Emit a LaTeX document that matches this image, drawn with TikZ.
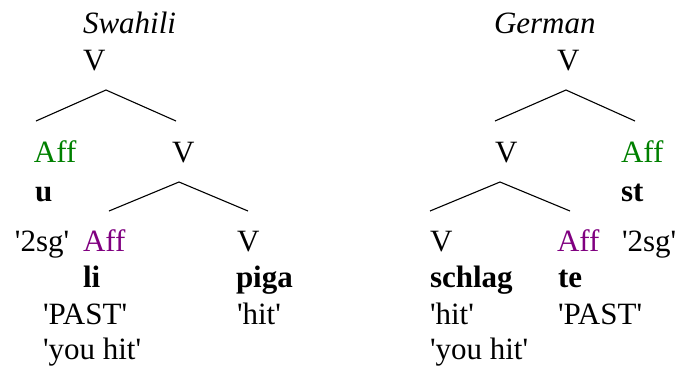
\documentclass[tikz,border=0pt]{standalone}
\usepackage{fontspec}
\setmainfont{Liberation Serif}
\newcommand{\strq}{\textquotesingle}
\definecolor{affgreen}{RGB}{0,128,0}
\definecolor{affpurple}{RGB}{128,0,128}
\begin{document}
\begin{tikzpicture}[x=1pt,y=-1pt,
  lbl/.style={anchor=base west,inner sep=0pt,outer sep=0pt,font=\fontsize{31}{36}\selectfont},
  lang/.style={lbl,font=\fontsize{31}{36}\selectfont\itshape},
  morph/.style={lbl,font=\fontsize{31}{36}\selectfont\bfseries},
  afftop/.style={lbl,text=affgreen},
  affin/.style={lbl,text=affpurple},
  branch/.style={draw=black,line width=1.1pt}]
\useasboundingbox (0,0) rectangle (678,368);

% ---------- Swahili ----------
\node[lang] (swt) at (83,33) {Swahili};
\node[lbl] (swV) at (83,70) {V};
\node[afftop] (swAff1) at (34,162) {Aff};
\node[lbl] (swV2) at (172,162) {V};
\node[morph] (swu) at (35,201) {u};
\node[lbl] (sw2sg) at (15,251) {\strq 2sg\strq};
\node[affin] (swAff2) at (83,251) {Aff};
\node[lbl] (swV3) at (237,251) {V};
\node[morph] (swli) at (83,287) {li};
\node[morph] (swpiga) at (236,287) {piga};
\node[lbl] (swpast) at (43,324) {\strq PAST\strq};
\node[lbl] (swhit) at (237,324) {\strq hit\strq};
\node[lbl] (swgloss) at (43,359) {\strq you hit\strq};

\coordinate (swA) at (106,90);
\coordinate (swAl) at (36,121);
\coordinate (swAr) at (176,121);
\coordinate (swB) at (179,182);
\coordinate (swBl) at (109,211);
\coordinate (swBr) at (248,211);
\draw[branch] (swAl) -- (swA) -- (swAr);
\draw[branch] (swBl) -- (swB) -- (swBr);

% ---------- German ----------
\node[lang] (det) at (494,33) {German};
\node[lbl] (deV) at (557,70) {V};
\node[lbl] (deV2) at (495,162) {V};
\node[afftop] (deAff1) at (621,162) {Aff};
\node[morph] (dest) at (621,201) {st};
\node[lbl] (deV3) at (430,251) {V};
\node[affin] (deAff2) at (557,251) {Aff};
\node[lbl] (de2sg) at (622,251) {\strq 2sg\strq};
\node[morph] (deschlag) at (430,287) {schlag};
\node[morph] (dete) at (558,287) {te};
\node[lbl] (dehit) at (430,324) {\strq hit\strq};
\node[lbl] (depast) at (558,324) {\strq PAST\strq};
\node[lbl] (degloss) at (430,359) {\strq you hit\strq};

\coordinate (deA) at (566,90);
\coordinate (deAl) at (495,121);
\coordinate (deAr) at (635,121);
\coordinate (deB) at (500,182);
\coordinate (deBl) at (430,211);
\coordinate (deBr) at (570,211);
\draw[branch] (deAl) -- (deA) -- (deAr);
\draw[branch] (deBl) -- (deB) -- (deBr);
\end{tikzpicture}
\end{document}
